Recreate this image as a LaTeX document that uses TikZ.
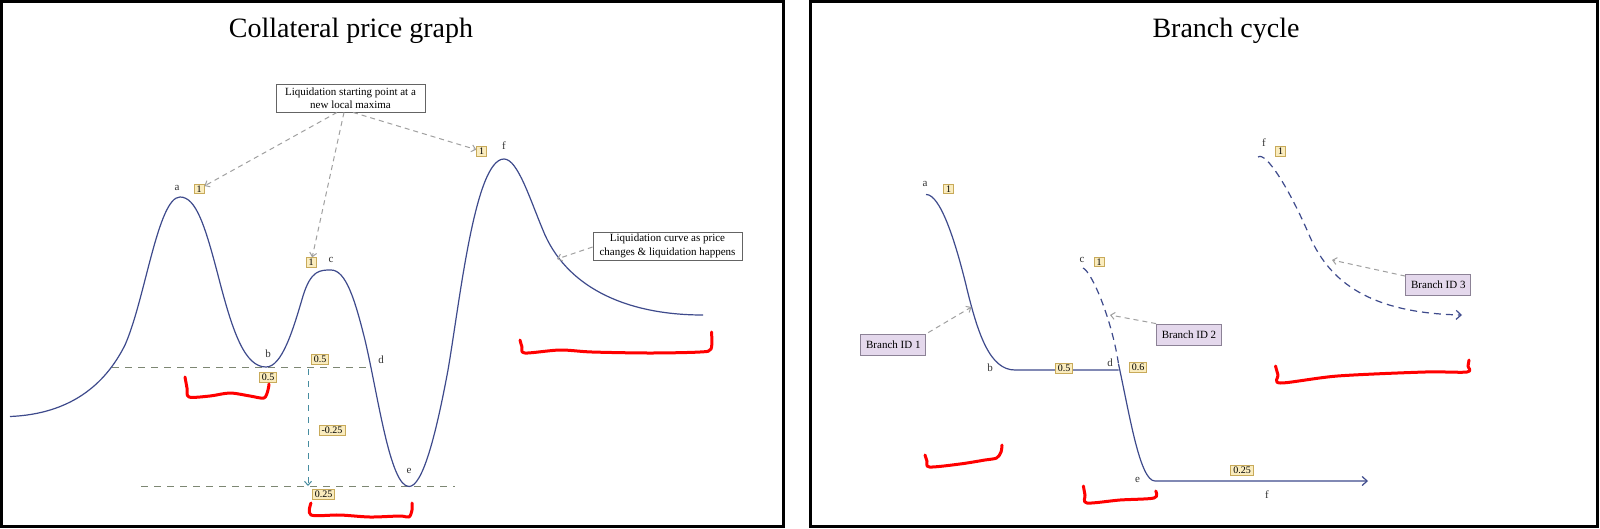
\documentclass[tikz,border=0pt]{standalone}
\usepackage{fontspec}
\setmainfont{Liberation Serif}
\usetikzlibrary{arrows.meta,calc}
\definecolor{curvec}{RGB}{62,74,140}
\definecolor{ptrgray}{RGB}{160,160,160}
\definecolor{levelc}{RGB}{125,135,115}
\definecolor{dropc}{RGB}{70,140,160}
\definecolor{valfill}{RGB}{250,236,190}
\definecolor{valbd}{RGB}{200,170,90}
\definecolor{bidfill}{RGB}{228,216,236}
\definecolor{bidbd}{RGB}{140,130,150}
\definecolor{notebd}{RGB}{100,100,100}
\tikzset{
  panel/.style={draw=black, line width=3pt},
  ttl/.style={font=\fontsize{28}{30}\selectfont, anchor=base, inner sep=0pt},
  ptlab/.style={font=\fontsize{11}{12}\selectfont, text=black!80, inner sep=0pt},
  valbox/.style={draw=valbd, fill=valfill, line width=0.8pt, font=\fontsize{10}{10}\selectfont, inner xsep=2.5pt, inner ysep=1.5pt},
  notebox/.style={draw=notebd, fill=white, line width=0.8pt, font=\fontsize{11}{13.5}\selectfont, align=center, minimum width=149pt, minimum height=28pt, inner sep=0pt},
  bidbox/.style={draw=bidbd, fill=bidfill, line width=0.8pt, font=\fontsize{11}{12}\selectfont, minimum width=65pt, minimum height=21pt, inner sep=0pt},
  pcurve/.style={draw=curvec, line width=1.2pt},
  bdash/.style={pcurve, dash pattern=on 7pt off 5pt},
  navytip/.style={-{Straight Barb[length=5pt,width=9pt]}},
  ptr/.style={draw=ptrgray, line width=1pt, dash pattern=on 5pt off 4pt, -{Straight Barb[length=4pt,width=7pt]}},
  lvline/.style={draw=levelc, line width=1.3pt, dash pattern=on 7pt off 6pt},
  dropline/.style={draw=dropc, line width=1pt, dash pattern=on 6pt off 6pt, -{Straight Barb[length=4pt,width=7pt]}},
  redmark/.style={draw=red, line width=3pt, line cap=round, line join=round},
}
\begin{document}
\begin{tikzpicture}[x=1pt,y=-1pt]
\useasboundingbox (0,0) rectangle (1600,528);
\fill[white] (0,0) rectangle (1600,528);
% panels
\draw[panel] (1.5,1.5) rectangle (783,526.5);
\draw[panel] (810,1.5) rectangle (1597,526.5);

% ================= LEFT PANEL =================
\node[ttl] (titleL) at (351,37) {Collateral price graph};

% level lines
\coordinate (lvB1) at (112,367.7);
\coordinate (lvB2) at (371,367.7);
\coordinate (lvE1) at (141,486.5);
\coordinate (lvE2) at (455,486.5);
\draw[lvline] (lvB1) -- (lvB2);
\draw[lvline] (lvE1) -- (lvE2);

% price curve
\coordinate (pS) at (10,416.5);
\coordinate (pA) at (180,197);
\coordinate (pB) at (266,367);
\coordinate (pC) at (331,270);
\coordinate (pE) at (409,486.5);
\coordinate (pF) at (504,159);
\coordinate (pEnd) at (703,315);
\draw[pcurve] (pS) .. controls (70,414) and (105,385) .. (125,345)
  .. controls (145,300) and (158,197) .. (pA)
  .. controls (196,197) and (205,225) .. (219,279)
  .. controls (233,333) and (245,367) .. (pB)
  .. controls (282,367) and (293,330) .. (303,296)
  .. controls (311,270) and (320,270) .. (pC)
  .. controls (346,270) and (355,300) .. (365,340)
  .. controls (378,395) and (390,486.5) .. (pE)
  .. controls (422,486.5) and (435,440) .. (448,370)
  .. controls (460,300) and (475,159) .. (pF)
  .. controls (518,159) and (530,200) .. (545,235)
  .. controls (570,290) and (630,315) .. (pEnd);

% drop arrow
\coordinate (dropTop) at (308,369);
\coordinate (dropBot) at (308,486);
\draw[dropline] (dropTop) -- (dropBot);

% point labels
\node[ptlab] (la) at (177,187.5) {a};
\node[ptlab] (lb) at (268,353.5) {b};
\node[ptlab] (lc) at (331,260) {c};
\node[ptlab] (ld) at (381,360) {d};
\node[ptlab] (le) at (409,470.7) {e};
\node[ptlab] (lf) at (504,146) {f};

% value boxes
\node[valbox] (oneA) at (199,189) {1};
\node[valbox] (oneC) at (311,262.6) {1};
\node[valbox] (oneF) at (481.7,151.3) {1};
\node[valbox] (vB1) at (320,359) {0.5};
\node[valbox] (vB2) at (268,377) {0.5};
\node[valbox] (vDiff) at (332,430) {-0.25};
\node[valbox] (vE) at (323.5,494.5) {0.25};

% notes
\node[notebox] (boxStart) at (350.5,98) {Liquidation starting point at a\\new local maxima};
\node[notebox] (boxCurve) at (667.5,246) {Liquidation curve as price\\changes \& liquidation happens};
\coordinate (liq) at (557,259);
\draw[ptr] ($(boxStart.south)+(-13.5,0)$) -- (oneA);
\draw[ptr] ($(boxStart.south)+(-6.5,0)$) -- (oneC);
\draw[ptr] ($(boxStart.south)+(2.5,0)$) -- (oneF);
\draw[ptr] ($(boxCurve.west)+(0,1)$) -- (liq);

% red marks
\draw[redmark] plot[smooth, tension=0.5] coordinates {(185,377) (187,388) (189,397) (210,396) (230,393) (250,396) (264,398) (268,390) (269,384)};
\draw[redmark] plot[smooth, tension=0.5] coordinates {(311,503) (311,515) (340,515) (370,517) (400,516) (409,517) (412,510) (412,503)};
\draw[redmark] plot[smooth, tension=0.5] coordinates {(520,340) (522,347) (525,353) (560,350) (592,352) (650,353) (700,352) (711,349) (711.5,332)};

% ================= RIGHT PANEL =================
\node[ttl] (titleR) at (1226,37) {Branch cycle};

\coordinate (rA) at (926,194.5);
\coordinate (rB) at (1015,370);
\coordinate (rD) at (1118.5,370);
\coordinate (rDtop) at (1118.5,364);
\coordinate (rE) at (1155,481);
\coordinate (rEnd) at (1368,481);
\coordinate (rC) at (1083,268);
\coordinate (rF) at (1258,157);
\coordinate (rFend) at (1462,315);

\draw[pcurve] (rA) .. controls (940,194) and (955,240) .. (966,285)
  .. controls (978,335) and (990,370) .. (rB) -- (rD);
\draw[pcurve, navytip] (rDtop) .. controls (1130,417) and (1140,481) .. (rE) -- (rEnd);
\draw[bdash] (rC) .. controls (1092,272) and (1112,320) .. (rDtop);
\draw[bdash, navytip] (rF) .. controls (1266,151) and (1290,190) .. (1310,237)
  .. controls (1330,282) and (1370,313) .. (rFend);

\node[ptlab] (ra) at (925,183.5) {a};
\node[ptlab] (rb) at (990,367.7) {b};
\node[ptlab] (rc) at (1082,259.5) {c};
\node[ptlab] (rd) at (1110,363) {d};
\node[ptlab] (re) at (1137.5,480) {e};
\node[ptlab] (rf) at (1267,495) {f};
\node[ptlab] (rf2) at (1264,143) {f};

\node[valbox] (oneRA) at (948.6,189) {1};
\node[valbox] (oneRC) at (1099,262) {1};
\node[valbox] (oneRF) at (1280.7,151.5) {1};
\node[valbox] (vR05) at (1064,368.5) {0.5};
\node[valbox] (vR06) at (1138,367.7) {0.6};
\node[valbox] (vR025) at (1242,470) {0.25};

\node[bidbox] (bid1) at (893.3,344.5) {Branch ID 1};
\node[bidbox] (bid2) at (1189,334.5) {Branch ID 2};
\node[bidbox] (bid3) at (1438.3,285) {Branch ID 3};
\coordinate (tgt1) at (971.5,307);
\coordinate (tgt2) at (1110,315);
\coordinate (tgt3) at (1332,260);
\draw[ptr] ($(bid1.north east)+(2,-1)$) -- (tgt1);
\draw[ptr] (bid2.north west) -- (tgt2);
\draw[ptr] ($(bid3.north west)+(0,2)$) -- (tgt3);

\draw[redmark] plot[smooth, tension=0.5] coordinates {(925,455) (927,461) (929.5,467) (960,464) (985,460) (996.6,458) (1001,452) (1002,445)};
\draw[redmark] plot[smooth, tension=0.5] coordinates {(1083.4,486) (1085,495) (1087,503) (1120,500) (1154,498) (1155.7,491)};
\draw[redmark] plot[smooth, tension=0.5] coordinates {(1275.5,366) (1278,375) (1280.7,383) (1337.5,376) (1425,372) (1467,372) (1468,366) (1469,360)};
\end{tikzpicture}
\end{document}
